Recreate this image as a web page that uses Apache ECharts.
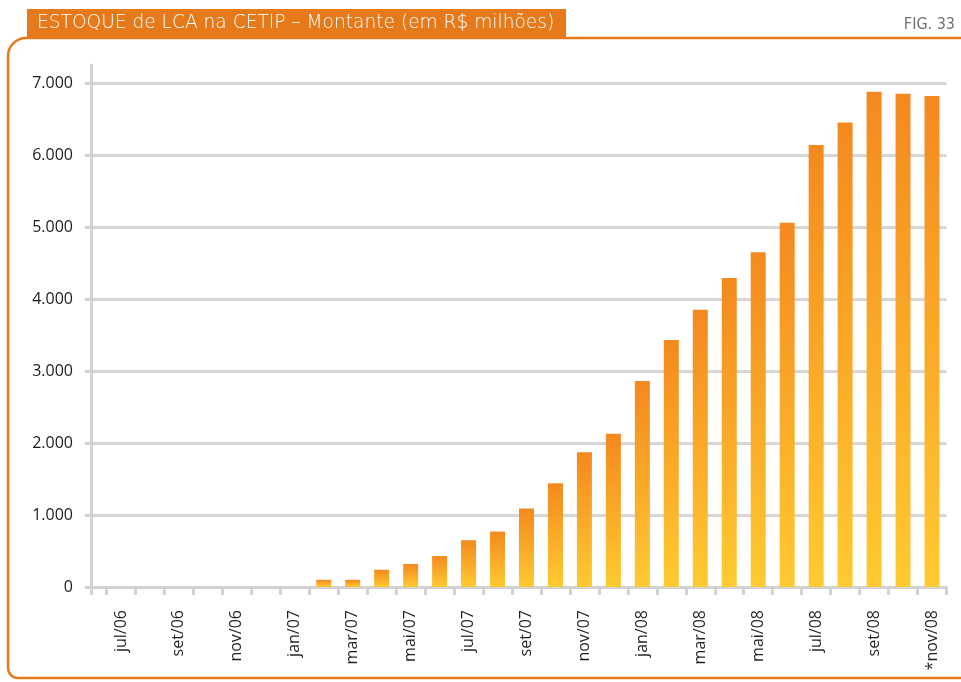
<!DOCTYPE html>
<html>
<head>
<meta charset="utf-8">
<title>ESTOQUE de LCA na CETIP</title>
<script src="https://cdn.jsdelivr.net/npm/echarts@6/dist/echarts.min.js"></script>
<style>
  html, body { margin: 0; padding: 0; background: #ffffff; }
  #chart { width: 961px; height: 682px; }
</style>
</head>
<body>
<div id="chart"></div>
<script>
// Meses (jul/06 a nov/08) e estoque de LCA registrado na CETIP, em R$ milhões
const meses = [
  'jul/06', 'ago/06', 'set/06', 'out/06', 'nov/06', 'dez/06',
  'jan/07', 'fev/07', 'mar/07', 'abr/07', 'mai/07', 'jun/07',
  'jul/07', 'ago/07', 'set/07', 'out/07', 'nov/07', 'dez/07',
  'jan/08', 'fev/08', 'mar/08', 'abr/08', 'mai/08', 'jun/08',
  'jul/08', 'ago/08', 'set/08', 'out/08', '*nov/08'
];
const estoque = [
  0, 0, 0, 0, 0, 0,
  0, 100, 100, 240, 320, 430,
  650, 770, 1090, 1440, 1870, 2130,
  2860, 3430, 3850, 4290, 4650, 5060,
  6140, 6450, 6880, 6850, 6820
];
const marcasY = [0, 1000, 2000, 3000, 4000, 5000, 6000, 7000];

const tituloTexto = 'ESTOQUE de LCA na CETIP – Montante (em R$ milhões)';
const figuraTexto = 'FIG. 33';

const laranja = '#E67A1B';
const cinzaEixo = '#d2d2d2';
const fonteEixo = '"Open Sans", "Noto Sans", sans-serif';
const fonteTitulo = '"DejaVu Sans", sans-serif';

function milhar(v) {
  return String(v).replace(/\B(?=(\d{3})+(?!\d))/g, '.');
}

const chart = echarts.init(document.getElementById('chart'), null, { renderer: 'canvas' });

const option = {
  backgroundColor: '#ffffff',
  animation: false,
  graphic: [
    {
      type: 'rect',
      z: 1,
      shape: { x: 8, y: 38, width: 1000, height: 640, r: [18, 0, 0, 10] },
      style: { fill: 'none', stroke: laranja, lineWidth: 2.5 }
    },
    {
      type: 'rect',
      z: 2,
      shape: { x: 27, y: 9, width: 539, height: 29 },
      style: { fill: laranja }
    },
    {
      type: 'text',
      z: 3,
      x: 37,
      y: 23,
      style: {
        text: tituloTexto,
        fill: '#ffffff',
        font: 'condensed 300 18.6px ' + fonteTitulo,
        verticalAlign: 'middle',
        align: 'left'
      }
    },
    {
      type: 'text',
      z: 3,
      x: 955,
      y: 25,
      style: {
        text: figuraTexto,
        fill: '#707070',
        font: 'condensed 16px ' + fonteTitulo,
        verticalAlign: 'middle',
        align: 'right'
      }
    }
  ],
  grid: [
    // barras e rótulos mensais
    { left: 106.5, right: 14.5, top: 65, bottom: 95, containLabel: false },
    // moldura dos eixos: eixo Y, linhas de grade e linha base
    { left: 91, right: 14.5, top: 65, bottom: 95, containLabel: false }
  ],
  xAxis: [
    {
      gridIndex: 0,
      type: 'category',
      data: meses,
      boundaryGap: true,
      axisLine: { show: false },
      axisTick: {
        show: true,
        interval: 0,
        length: 8,
        lineStyle: { color: cinzaEixo, width: 3 }
      },
      axisLabel: {
        interval: 1,
        rotate: 90,
        margin: 23,
        color: '#231f20',
        fontSize: 16,
        fontFamily: fonteEixo
      },
      splitLine: { show: false }
    },
    {
      gridIndex: 1,
      type: 'value',
      min: 0,
      max: 1,
      interval: 1,
      axisLine: { show: true, onZero: false, lineStyle: { color: cinzaEixo, width: 3 } },
      axisTick: { show: true, length: 8, lineStyle: { color: cinzaEixo, width: 3 } },
      axisLabel: { show: false },
      splitLine: { show: false }
    }
  ],
  yAxis: [
    {
      gridIndex: 0,
      type: 'value',
      min: 0,
      max: 7250,
      show: false,
      splitLine: { show: false }
    },
    {
      gridIndex: 1,
      type: 'value',
      min: 0,
      max: 7250,
      axisLine: { show: true, lineStyle: { color: cinzaEixo, width: 3 } },
      axisTick: {
        show: true,
        length: 6,
        customValues: marcasY,
        lineStyle: { color: cinzaEixo, width: 3 }
      },
      axisLabel: {
        customValues: marcasY,
        margin: 18,
        color: '#1e1a1b',
        fontSize: 16,
        fontFamily: fonteEixo,
        formatter: milhar
      },
      splitLine: {
        show: true,
        lineStyle: { color: '#d6d6d6', width: 3 }
      }
    }
  ],
  series: [
    {
      name: 'Estoque de LCA',
      type: 'bar',
      xAxisIndex: 0,
      yAxisIndex: 0,
      data: estoque,
      barWidth: 15,
      itemStyle: {
        color: new echarts.graphic.LinearGradient(0, 0, 0, 1, [
          { offset: 0, color: '#F4891E' },
          { offset: 1, color: '#FFCA31' }
        ])
      }
    }
  ]
};

chart.setOption(option);
</script>
</body>
</html>
